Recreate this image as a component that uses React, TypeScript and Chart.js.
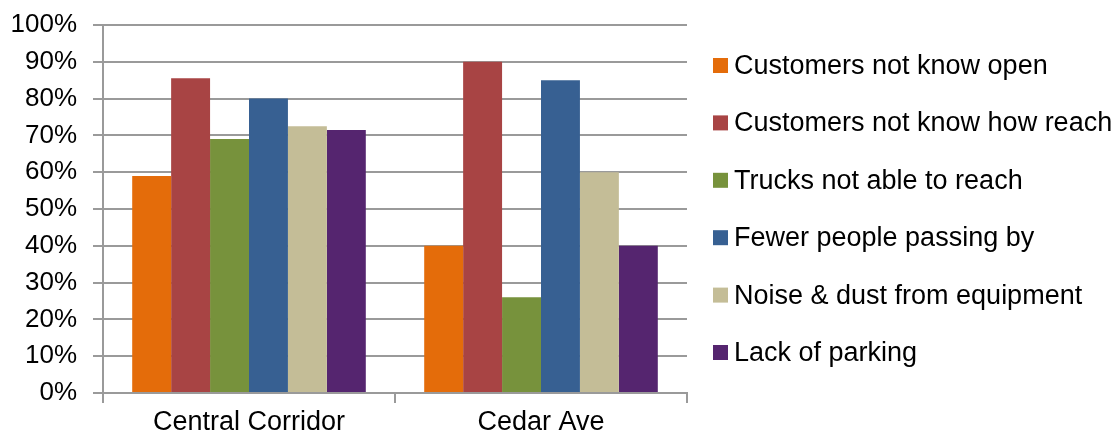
import React, { useEffect, useRef } from "react";
import { Chart, registerables } from "chart.js";

Chart.register(...registerables);

const categories = ["Central Corridor", "Cedar Ave"];
const seriesNames = [
  "Customers not know open",
  "Customers not know how reach",
  "Trucks not able to reach",
  "Fewer people passing by",
  "Noise & dust from equipment",
  "Lack of parking",
];
const notKnowOpen = [59, 40];
const notKnowHowReach = [85.5, 90];
const trucksNotAble = [69, 26];
const fewerPeople = [80, 85];
const noiseDust = [72.5, 60];
const lackParking = [71.5, 40];
const seriesColors = ["#E46C0A", "#A84444", "#77923C", "#376092", "#C4BD97", "#55256F"];
const yTicks = [0, 10, 20, 30, 40, 50, 60, 70, 80, 90, 100];

const FONT = "'Liberation Sans', Arial, sans-serif";

const legendPlugin = {
  id: "sideLegend",
  afterDraw(chart: any) {
    const { ctx, chartArea } = chart;
    const ds = chart.data.datasets;
    const spacing = 57.4;
    const midY = (chartArea.top + chartArea.bottom) / 2;
    const boxX = chartArea.right + 26;
    ctx.save();
    ctx.font = `27px ${FONT}`;
    ctx.textBaseline = "middle";
    ctx.textAlign = "left";
    ds.forEach((d: any, i: number) => {
      const cy = midY + (i - (ds.length - 1) / 2) * spacing;
      ctx.fillStyle = d.backgroundColor;
      ctx.fillRect(boxX, cy - 7.5, 15, 15);
      ctx.fillStyle = "#000";
      ctx.fillText(d.label, boxX + 21, cy + 1);
    });
    ctx.restore();
  },
};

export default function App() {
  const ref = useRef<HTMLCanvasElement | null>(null);
  useEffect(() => {
    if (!ref.current) return;
    const values = [notKnowOpen, notKnowHowReach, trucksNotAble, fewerPeople, noiseDust, lackParking];
    const chart = new Chart(ref.current, {
      type: "bar",
      data: {
        labels: categories,
        datasets: seriesNames.map((name, i) => ({
          label: name,
          data: values[i],
          backgroundColor: seriesColors[i],
          borderWidth: 0,
          categoryPercentage: 0.8,
          barPercentage: 1.0,
        })),
      },
      options: {
        animation: false,
        responsive: true,
        maintainAspectRatio: false,
        layout: { padding: { top: 25, right: 431, left: 0, bottom: 0 } },
        plugins: {
          legend: { display: false },
          tooltip: { enabled: false },
        },
        scales: {
          x: {
            type: "category",
            offset: true,
            grid: {
              offset: true,
              drawOnChartArea: false,
              drawTicks: true,
              tickLength: 10,
              color: "#9a9a9a",
              lineWidth: 2,
            },
            border: { display: true, color: "#9a9a9a", width: 2 },
            ticks: {
              color: "#000",
              font: { family: FONT, size: 27 },
              padding: 3,
              maxRotation: 0,
            },
            afterFit(scale: any) {
              scale.height = 43;
              scale.paddingLeft = 0;
              scale.paddingRight = 0;
            },
          },
          y: {
            min: 0,
            max: 100,
            afterBuildTicks(scale: any) {
              scale.ticks = yTicks.map((v) => ({ value: v }));
            },
            grid: {
              drawTicks: true,
              tickLength: 10,
              color: "#9a9a9a",
              lineWidth: 2,
            },
            border: { display: true, color: "#9a9a9a", width: 2 },
            ticks: {
              color: "#000",
              font: { family: FONT, size: 26 },
              padding: 16,
              callback: (v: any) => `${v}%`,
            },
            afterFit(scale: any) {
              scale.width = 103;
              scale.paddingTop = 0;
              scale.paddingBottom = 0;
            },
          },
        },
      },
      plugins: [legendPlugin],
    });
    return () => chart.destroy();
  }, []);
  return (
    <div style={{ position: "fixed", left: 0, top: 0, width: 1118, height: 436, background: "#fff" }}>
      <canvas ref={ref} />
    </div>
  );
}
